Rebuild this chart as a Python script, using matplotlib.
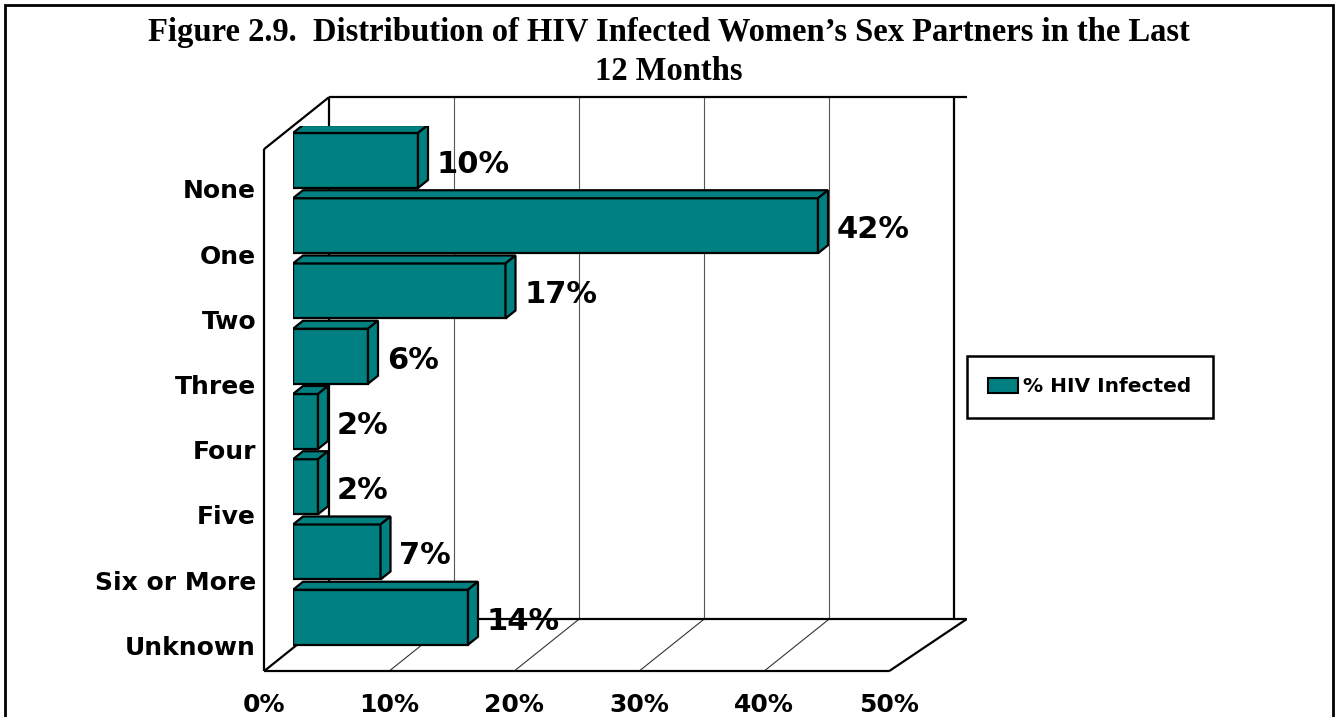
import matplotlib
matplotlib.use("Agg")
import matplotlib.pyplot as plt
from matplotlib.patches import Polygon, Rectangle, Patch

# data
categories = ["None", "One", "Two", "Three", "Four", "Five", "Six or More", "Unknown"]
values = [10, 42, 17, 6, 2, 2, 7, 14]
tick_values = [0, 10, 20, 30, 40, 50]
series_name = "% HIV Infected"
title = "Figure 2.9.  Distribution of HIV Infected Women\u2019s Sex Partners in the Last\n12 Months"

teal = "#008080"

W, H = 1338, 717
fig = plt.figure(figsize=(W / 100, H / 100), dpi=100)

# axes = front plane of the bars, x in %, y in category slots
ax = fig.add_axes([293 / W, 1 - 648 / H, 625 / W, 522 / H])
ax.set_xlim(0, 50)
ax.set_ylim(len(categories) - 0.5, -0.5)
ax.axis("off")

px_x = 625 / 50
px_y = 522 / len(categories)


def depth(k):
    # pseudo 3D offset of k pixels into the page
    return k / px_x, -0.8 * k / px_y


fx, fy = depth(-29)   # front plane (floor edge, labels)
bx, by = depth(36)    # back wall
cx, cy = depth(10)    # bar thickness
ymin, ymax = -0.5, len(categories) - 0.5
xmax = tick_values[-1]
ext = 1.0

line_kw = dict(color="black", lw=1.6, clip_on=False, solid_capstyle="butt")

# back wall gridlines
for v in tick_values:
    if v in (tick_values[0], tick_values[-1]):
        ax.plot([v + bx, v + bx], [ymin + by, ymax + by], zorder=1, **line_kw)
    else:
        ax.plot([v + bx, v + bx], [ymin + by, ymax + by], color="#555555", lw=0.8,
                clip_on=False, zorder=1)
        # floor gridlines
        ax.plot([v + fx, v + bx], [ymax + fy, ymax + by], color="#333333", lw=0.8,
                clip_on=False, zorder=1)

# back wall top edge and floor
ax.plot([bx, xmax + bx + ext], [ymin + by, ymin + by], zorder=1, **line_kw)
ax.plot([bx, xmax + bx + ext], [ymax + by, ymax + by], zorder=1, **line_kw)
ax.plot([fx, xmax + fx], [ymax + fy, ymax + fy], zorder=1, **line_kw)
ax.plot([xmax + fx, xmax + bx + ext], [ymax + fy, ymax + by], zorder=1, **line_kw)
ax.plot([fx, bx], [ymax + fy, ymax + by], zorder=1, **line_kw)
# left wall
ax.plot([fx, fx], [ymin + fy, ymax + fy], zorder=1, **line_kw)
ax.plot([fx, bx], [ymin + fy, ymin + by], zorder=1, **line_kw)

# bars: front face + top + side
top_off, bot_off = -0.393, 0.45
bar_h = bot_off - top_off
ypos = list(range(len(categories)))
ax.barh([y + (top_off + bot_off) / 2 for y in ypos], values, height=bar_h,
        color=teal, edgecolor="black", linewidth=1.6, zorder=3)
for y, v in zip(ypos, values):
    t, b = y + top_off, y + bot_off
    top = Polygon([(0, t), (v, t), (v + cx, t + cy), (cx, t + cy)], closed=True,
                  facecolor=teal, edgecolor="black", lw=1.6, zorder=3, joinstyle="miter")
    side = Polygon([(v, t), (v + cx, t + cy), (v + cx, b + cy), (v, b)], closed=True,
                   facecolor=teal, edgecolor="black", lw=1.6, zorder=3, joinstyle="miter")
    ax.add_patch(top)
    ax.add_patch(side)
    ax.text(v + cx + 0.7, y + 0.09, f"{v}%", ha="left", va="center",
            fontsize=22, fontweight="bold", family="DejaVu Sans", zorder=5)

# category labels on the front plane
for y, name in zip(ypos, categories):
    ax.text(-2.96, y + 0.5, name, ha="right", va="center", fontsize=18,
            fontweight="bold", family="DejaVu Sans", clip_on=False)

# x tick labels along the front floor edge
for v in tick_values:
    ax.text(v + fx, 8.37, f"{v}%", ha="center", va="center", fontsize=18,
            fontweight="bold", family="DejaVu Sans", clip_on=False)

# legend
handle = Patch(facecolor=teal, edgecolor="black", linewidth=1.5)
leg = fig.legend([handle], [series_name], loc="center left",
                 bbox_to_anchor=(967 / W, 1 - 387 / H), frameon=True, fancybox=False,
                 framealpha=1,
                 prop={"family": "DejaVu Sans", "weight": "bold", "size": 14.5},
                 handlelength=1.5, handleheight=0.8, handletextpad=0.25,
                 borderpad=1.05, borderaxespad=0)
leg.get_frame().set_edgecolor("black")
leg.get_frame().set_linewidth(1.8)

# title
fig.text(0.5, 1 - 52 / H, title, ha="center", va="center", fontsize=23.5,
         fontweight="bold", family="Liberation Serif", linespacing=1.3)

# outer frame
fig.patches.append(Rectangle((5 / W, -0.1), 1328 / W, 1.1 - 5 / H, transform=fig.transFigure,
                             fill=False, edgecolor="black", lw=2))

fig.savefig("out.png", dpi=100)
